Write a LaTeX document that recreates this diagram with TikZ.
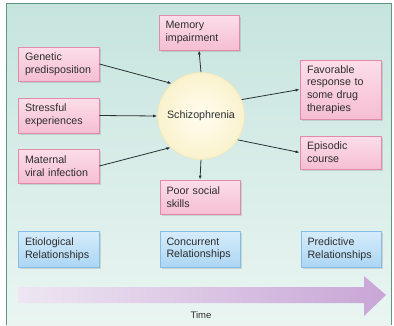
\documentclass[tikz,border=0pt]{standalone}
\usepackage{fontspec}
\setmainfont{Liberation Sans}
\usetikzlibrary{shadows,arrows.meta}
\definecolor{pinktop}{RGB}{252,222,233}
\definecolor{pinkbot}{RGB}{245,190,210}
\definecolor{pinkbd}{RGB}{226,138,170}
\definecolor{bluetop}{RGB}{214,236,251}
\definecolor{bluebot}{RGB}{172,214,243}
\definecolor{bluebd}{RGB}{130,190,230}
\definecolor{bgtop}{RGB}{198,228,222}
\definecolor{bgbot}{RGB}{234,245,242}
\definecolor{framec}{RGB}{95,150,125}
\definecolor{circin}{RGB}{255,253,240}
\definecolor{circout}{RGB}{250,242,205}
\definecolor{circbd}{RGB}{240,230,185}
\definecolor{arrowc}{RGB}{40,48,48}
\definecolor{txtc}{RGB}{45,45,45}
\definecolor{timeL}{RGB}{238,230,242}
\definecolor{timeR}{RGB}{200,165,214}
\begin{document}
\begin{tikzpicture}[x=1pt,y=-1pt,
  txt/.style={font=\fontsize{10.7}{12.7}\selectfont, text=txtc},
  boxbase/.style={txt, line width=0.8pt, minimum width=81pt, text width=67pt,
    align=left, inner sep=0pt,
    drop shadow={shadow xshift=1.5pt, shadow yshift=-1.5pt, opacity=0.25}},
  pinkbox/.style={boxbase, draw=pinkbd, top color=pinktop, bottom color=pinkbot},
  bluebox/.style={boxbase, draw=bluebd, top color=bluetop, bottom color=bluebot},
  link/.style={draw=arrowc, line width=0.8pt, -{Latex[length=4pt,width=3pt]}}
]
\useasboundingbox (0,0) rectangle (394,325);
% background frame
\shade[top color=bgtop, bottom color=bgbot] (6,3) rectangle (391,325);
\draw[framec, line width=1pt] (6,325) -- (6,3) -- (391,3) -- (391,325);

% circle
\node[circle, draw=circbd, line width=0.6pt, inner color=circin, outer color=circout,
  minimum size=87pt, txt] (schiz) at (201,116) {Schizophrenia};

% pink boxes
\node[pinkbox, minimum height=34pt] (gen) at (58.5,64) {Genetic\\predisposition};
\node[pinkbox, minimum height=35pt] (stress) at (58.5,115.5) {Stressful\\experiences};
\node[pinkbox, minimum height=34pt] (mat) at (58.5,166) {Maternal\\viral infection};
\node[pinkbox, minimum height=35pt, minimum width=80pt] (mem) at (199,32.5) {Memory\\impairment};
\node[pinkbox, minimum height=34pt, minimum width=80pt] (poor) at (200,197) {Poor social\\skills};
\node[pinkbox, minimum height=59pt] (fav) at (340.5,89.5) {Favorable\\response to\\some drug\\therapies};
\node[pinkbox, minimum height=33pt] (epi) at (340.5,152.5) {Episodic\\course};

% blue boxes
\node[bluebox, minimum height=36pt] (etio) at (58.5,249) {Etiological\\Relationships};
\node[bluebox, minimum height=36pt, minimum width=80pt] (conc) at (200,249) {Concurrent\\Relationships};
\node[bluebox, minimum height=36pt, minimum width=80pt] (pred) at (341,249) {Predictive\\Relationships};

% connectors
\draw[link] (gen.east) -- (schiz.132);
\draw[link] (stress.east) -- (schiz.west);
\draw[link] (mat.east) -- (schiz.226);
\draw[link] (schiz.north) -- (mem.south);
\draw[link] (schiz.south) -- (poor.north);
\draw[link] (schiz.22) -- (fav.west);
\draw[link] (schiz.-33) -- (epi.west);

% time arrow
\shade[left color=timeL, right color=timeR]
  (18,287) -- (364,287) -- (364,276) -- (386,295) -- (364,316) -- (364,303) -- (18,303) -- cycle;
\node[font=\fontsize{9.5}{11}\selectfont, text=txtc] (time) at (201,315) {Time};
\end{tikzpicture}
\end{document}
